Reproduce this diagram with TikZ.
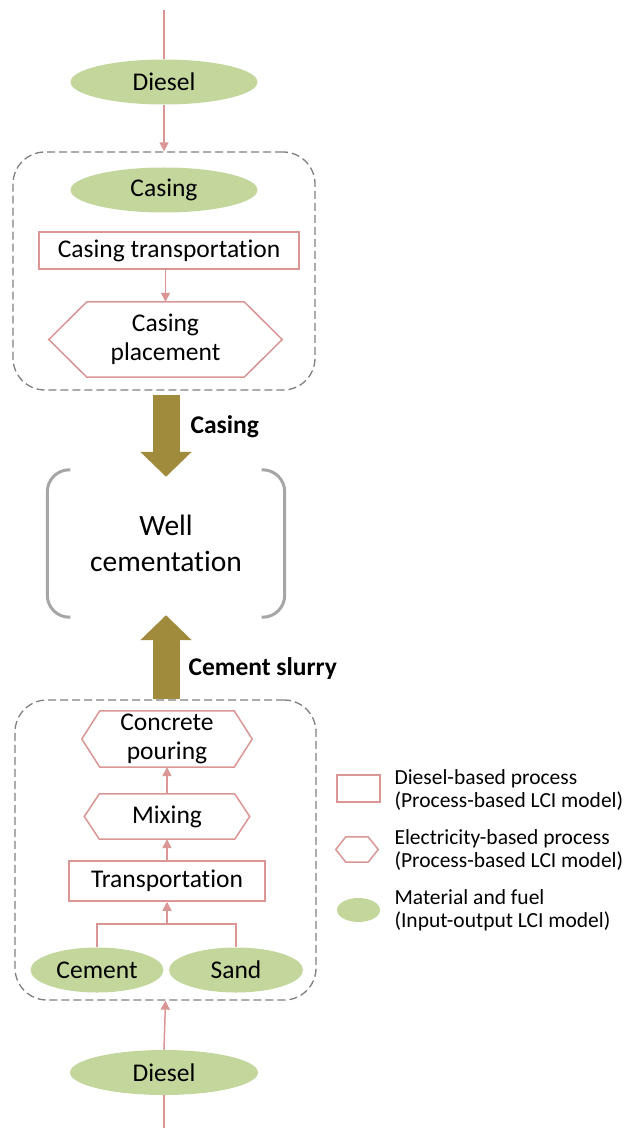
\documentclass[tikz,border=0pt]{standalone}
\usepackage{fontspec}
\setmainfont{Carlito}[Ligatures={NoCommon}]
\usetikzlibrary{arrows.meta,shapes.geometric}
\definecolor{procred}{HTML}{D99694}
\definecolor{fuelgreen}{HTML}{C3D69B}
\definecolor{flowgold}{HTML}{A08A3C}
\definecolor{boxgray}{HTML}{7F7F7F}
\definecolor{brackgray}{HTML}{A6A6A6}
\newcommand{\hexoutline}[2]{\draw[procred, line width=1.5pt] (#1.west) -- ([xshift=#2]#1.north west)
    -- ([xshift=-#2]#1.north east) -- (#1.east) -- ([xshift=-#2]#1.south east) -- ([xshift=#2]#1.south west) -- cycle;}
\begin{document}
\begin{tikzpicture}[x=1pt, y=-1pt,
            fuel/.style={ellipse, fill=fuelgreen, inner sep=0pt, minimum width=#1, minimum height=45pt,
                font=\fontsize{25.5}{29}\selectfont},
            fuel/.default=187pt,
            procbox/.style={draw=procred, line width=1.5pt, inner sep=0pt, font=\fontsize{25.5}{29}\selectfont},
            hexbox/.style={inner sep=0pt, align=center, font=\fontsize{25.5}{29}\selectfont},
            stage/.style={draw=boxgray, line width=1.3pt, dash pattern=on 8pt off 4pt, rounded corners=32pt},
            link/.style={procred, line width=1.5pt},
            flow/.style={link, -{Triangle[width=9pt,length=9pt]}},
            bigflow/.style={flowgold, line width=27pt, -{Triangle[width=50pt,length=25pt]}},
            bracket/.style={brackgray, line width=3pt, rounded corners=22pt},
            flowlabel/.style={anchor=west, font=\bfseries\fontsize{25.5}{29}\selectfont},
            legtext/.style={anchor=west, align=left, font=\fontsize{21.5}{23}\selectfont}]
    \useasboundingbox (0,0) rectangle (627,1131);
    \node[stage, minimum width=302pt, minimum height=238pt] (box1) at (164,271) {};
    \node[stage, minimum width=301pt, minimum height=300pt] (box2) at (165.5,850) {};
    \coordinate (topin) at (164,10);
    \coordinate (bottomin) at (164,1128);
    \node[fuel] (dieselA) at (164,82) {Diesel};
    \node[fuel] (casing) at (164,190) {Casing};
    \node[procbox, minimum width=260pt, minimum height=37pt] (castrans) at (169,250.5) {Casing transportation};
    \node[hexbox, minimum width=233pt, minimum height=75pt] (casplace) at (165.5,339.5) {Casing\\placement};
    \hexoutline{casplace}{38pt}
    \node[minimum width=237pt, minimum height=147pt, align=center,
          font=\fontsize{29.5}{35.5}\selectfont] (well) at (166,543.5) {Well\\cementation};
    \draw[bracket] ([xshift=23pt]well.north west) -- (well.north west) -- (well.south west) -- ([xshift=23pt]well.south west);
    \draw[bracket] ([xshift=-23pt]well.north east) -- (well.north east) -- (well.south east) -- ([xshift=-23pt]well.south east);
    \node[hexbox, minimum width=170pt, minimum height=56pt] (pouring) at (167,739) {Concrete\\pouring};
    \hexoutline{pouring}{18pt}
    \node[hexbox, minimum width=165pt, minimum height=45pt] (mixing) at (167,816.5) {Mixing};
    \hexoutline{mixing}{15pt}
    \node[procbox, minimum width=196pt, minimum height=40pt] (transport) at (167,881) {Transportation};
    \coordinate (join) at (167,924);
    \node[fuel=133pt] (cement) at (97,970) {Cement};
    \node[fuel=134pt] (sand) at (236,970) {Sand};
    \node[fuel=188pt] (dieselB) at (164,1072.5) {Diesel};
    \draw[link] (topin) -- (dieselA.north);
    \draw[flow] (dieselA.south) -- (box1.north);
    \draw[flow] (castrans.south -| casplace.north) -- (casplace.north);
    \draw[bigflow] ([yshift=-4pt]box1.south -| well.north) -- ([yshift=-7pt]well.north);
    \draw[bigflow] (box2.north -| well.south) -- ([yshift=2pt]well.south);
    \node[flowlabel] (casinglabel) at (187,427) {Casing};
    \node[flowlabel] (slurrylabel) at (185,669) {Cement slurry};
    \draw[flow] (mixing.north) -- (pouring.south);
    \draw[flow] (transport.north) -- (mixing.south);
    \draw[link] (cement.north) |- (join) -| (sand.north);
    \draw[flow] (join) -- (transport.south);
    \draw[flow] (dieselB.north) -- (box2.south);
    \draw[link] (bottomin) -- (dieselB.south);
    \node[procbox, minimum width=43pt, minimum height=27pt] (legrect) at (358.5,788.5) {};
    \node[hexbox, minimum width=42pt, minimum height=25pt] (leghex) at (357,849.5) {};
    \hexoutline{leghex}{10pt}
    \node[fuel=43pt, minimum height=24pt] (legell) at (358.5,910) {};
    \node[legtext] (legrecttext) at (391,790) {Diesel-based process\\(Process-based LCI model)};
    \node[legtext] (leghextext) at (391,850) {Electricity-based process\\(Process-based LCI model)};
    \node[legtext] (legelltext) at (391,910) {Material and fuel\\(Input-output LCI model)};
\end{tikzpicture}
\end{document}
